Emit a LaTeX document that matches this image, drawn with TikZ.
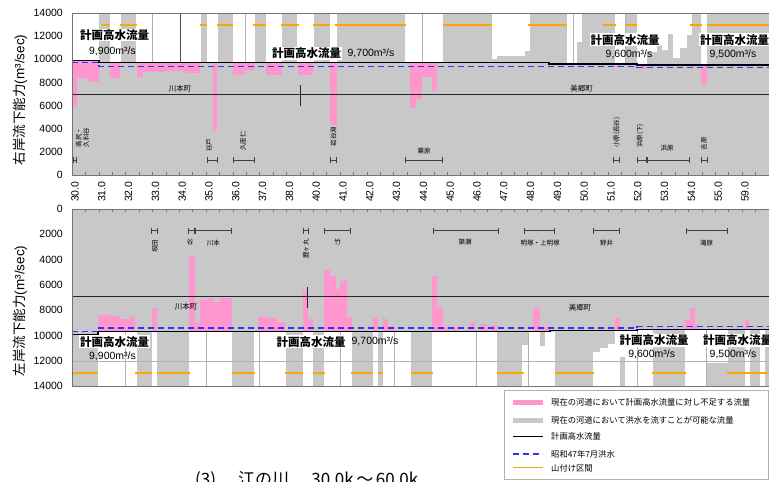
\documentclass[tikz,border=0pt]{standalone}
\usepackage{fontspec}
\setmainfont{Liberation Sans}
\newfontfamily\jp{Noto Sans CJK JP}
\usepackage{tikz}
\usetikzlibrary{arrows.meta}

\definecolor{capgray}{RGB}{200,200,200}
\definecolor{lackpink}{RGB}{255,150,205}
\definecolor{yamaorange}{RGB}{255,165,0}
\definecolor{floodblue}{RGB}{50,50,255}

\begin{document}
\begin{tikzpicture}[x=1pt,y=1pt,
	capbar/.style={fill=capgray},
	lackbar/.style={fill=lackpink},
	openbar/.style={fill=white},
	barline/.style={draw=black!30,line width=0.4pt},
	planline/.style={draw=black,line width=1.3pt},
	floodline/.style={draw=floodblue,line width=1.2pt,dash pattern=on 6pt off 4pt},
	yamaline/.style={draw=yamaorange,line width=2pt},
	townline/.style={draw=black!85,line width=0.7pt},
	spanline/.style={draw=black!75,line width=0.8pt,arrows={Bar[width=6pt]-Bar[width=6pt]}},
	frameline/.style={draw=black!55,line width=0.6pt},
	ticklab/.style={font=\fontsize{10.5}{12}\selectfont,inner sep=1pt},
	axtitle/.style={font=\fontsize{13.5}{15}\selectfont,rotate=90,inner sep=0pt},
	planlab/.style={font=\jp\bfseries\fontsize{11.5}{13}\selectfont,fill=white,inner sep=1pt},
	flowlab/.style={font=\fontsize{10.5}{12}\selectfont,inner sep=1pt},
	townlab/.style={font=\jp\fontsize{7.5}{9}\selectfont,inner sep=1pt},
	placelab/.style={font=\jp\fontsize{6.5}{7.5}\selectfont,inner sep=0.5pt},
	uplab/.style={placelab,rotate=90,align=center},
	legtext/.style={font=\jp\fontsize{8.3}{10}\selectfont,anchor=west,inner sep=1pt}
]
\useasboundingbox (0,0) rectangle (769,482);

% right bank
\begin{scope}[yshift=307pt,y=11.57pt]
	\fill[capbar] (72,0) rectangle (769,14);

	\fill[openbar] (72,9.9) rectangle (99,14);
	\fill[openbar] (110,9.7) rectangle (120.7,14);
	\fill[openbar] (136,9.7) rectangle (200.7,14);
	\fill[openbar] (207,9.7) rectangle (217.7,14);
	\fill[openbar] (233.3,9.7) rectangle (255,14);
	\fill[openbar] (266,9.7) rectangle (282,14);
	\fill[openbar] (297,9.7) rectangle (314,14);
	\fill[openbar] (330,9.7) rectangle (337,14);
	\fill[openbar] (405,9.7) rectangle (443,14);
	\fill[openbar] (491.7,10.0) rectangle (497,14);
	\fill[openbar] (497,10.3) rectangle (525,14);
	\fill[openbar] (525,10.7) rectangle (530,14);
	\fill[openbar] (566.7,9.7) rectangle (577,14);
	\fill[openbar] (577,11.5) rectangle (581.7,14);
	\fill[openbar] (615,9.6) rectangle (625,14);
	\fill[openbar] (636.7,9.5) rectangle (646.7,14);
	\fill[openbar] (646.7,10.6) rectangle (656.7,14);
	\fill[openbar] (656.7,11.2) rectangle (661.7,14);
	\fill[openbar] (661.7,10.8) rectangle (668.3,14);
	\fill[openbar] (668.3,12.2) rectangle (673.3,14);
	\fill[openbar] (673.3,10.1) rectangle (680,14);
	\fill[openbar] (680,10.95) rectangle (686.7,14);
	\fill[openbar] (686.7,12.1) rectangle (691.7,14);
	\fill[openbar] (700.7,9.5) rectangle (706.7,14);

	\fill[lackbar] (72,5.9) rectangle (77,9.9);
	\fill[lackbar] (77,8.4) rectangle (88,9.9);
	\fill[lackbar] (88,8.0) rectangle (99,9.9);
	\fill[lackbar] (110,8.35) rectangle (120,9.7);
	\fill[lackbar] (137,8.5) rectangle (143,9.7);
	\fill[lackbar] (143,8.9) rectangle (165,9.7);
	\fill[lackbar] (165,9.0) rectangle (185,9.7);
	\fill[lackbar] (185,8.85) rectangle (200,9.7);
	\fill[lackbar] (213.3,3.8) rectangle (217.3,9.7);
	\fill[lackbar] (233.3,8.6) rectangle (245,9.7);
	\fill[lackbar] (245,9.1) rectangle (255,9.7);
	\fill[lackbar] (266,8.65) rectangle (282,9.7);
	\fill[lackbar] (298,8.65) rectangle (313,9.7);
	\fill[lackbar] (330,4.3) rectangle (337,9.7);
	\fill[lackbar] (410,5.8) rectangle (416,9.7);
	\fill[lackbar] (416,6.6) rectangle (422,9.7);
	\fill[lackbar] (422,8.5) rectangle (432,9.7);
	\fill[lackbar] (432,7.3) rectangle (437,9.7);
	\fill[lackbar] (615,9.3) rectangle (620,9.6);
	\fill[lackbar] (642,9.2) rectangle (647,9.5);
	\fill[lackbar] (700.7,7.8) rectangle (706.7,9.5);

	\draw[barline] (151.7,9.7) -- (151.7,14);
	\draw[barline,black!70] (180,9.7) -- (180,14);
	\draw[barline] (245,9.7) -- (245,14);
	\draw[barline] (421.7,9.7) -- (421.7,14);
	\draw[barline] (572.7,9.7) -- (572.7,14);
	\draw[barline] (625,9.6) -- (625,14);

	\draw[yamaline] (101.7,13) -- (110,13);
	\draw[yamaline] (120,13) -- (136.7,13);
	\draw[yamaline] (200,13) -- (207,13);
	\draw[yamaline] (216.7,13) -- (233.3,13);
	\draw[yamaline] (253,13) -- (265.7,13);
	\draw[yamaline] (280.7,13) -- (299,13);
	\draw[yamaline] (312.7,13) -- (330,13);
	\draw[yamaline] (335,13) -- (406,13);
	\draw[yamaline] (442.7,13) -- (491.7,13);
	\draw[yamaline] (528,13) -- (566.7,13);
	\draw[yamaline] (603,13) -- (616,13);
	\draw[yamaline] (626,13) -- (636.7,13);
	\draw[yamaline] (690,13) -- (701.7,13);
	\draw[yamaline] (706.7,13) -- (769,13);

	\draw[townline] (72,7) -- (769,7);
	\draw[townline] (300,5.96) -- (300,7.78);
	\draw[planline] (72,9.9) -- (99,9.9) -- (99,9.7) -- (549,9.7) -- (549,9.6) -- (637,9.6) -- (637,9.5) -- (769,9.5);
	\draw[floodline] (72,9.75) -- (99,9.75) -- (99,9.4) -- (637,9.4) -- (637,9.3) -- (769,9.3);

	\draw[frameline] (72,14) -- (769,14);
	\draw[frameline] (72,0) -- (72,14);
	\draw[frameline] (72,0) -- (769,0);
	\foreach \i in {0,...,51}
		\draw[frameline] ({72+13.4*\i},0) -- ({72+13.4*\i},0.25);

	\foreach \v/\t in {0/0,2/2000,4/4000,6/6000,8/8000,10/10000,12/12000,14/14000}
		\node[ticklab,anchor=east] (ly\v) at (64,\v) {\t};
	\foreach \t [count=\i from 0] in {30.0,31.0,32.0,33.0,34.0,35.0,36.0,37.0,38.0,40.0,41.0,42.0,43.0,44.0,45.0,46.0,47.0,48.0,49.0,50.0,51.0,52.0,53.0,54.0,55.0,59.0}
		\node[ticklab,rotate=90,anchor=east] (lx\i) at ({75+26.8*\i},-0.45) {\t};
	\node[axtitle] (ltitle) at (20,6.5) {{\jp 右岸流下能力}(m³/sec)};

	\node[planlab] (lp1) at (114.5,12.1) {計画高水流量};
	\node[flowlab] (lq1) at (112.5,10.66) {9,900m³/s};
	\node[planlab] (lp2) at (306.5,10.52) {計画高水流量};
	\node[flowlab] (lq2) at (371,10.52) {9,700m³/s};
	\node[planlab] (lp3) at (625,11.67) {計画高水流量};
	\node[flowlab] (lq3) at (629,10.43) {9,600m³/s};
	\node[planlab,anchor=west] (lp4) at (699,11.67) {計画高水流量};
	\node[flowlab] (lq4) at (733,10.43) {9,500m³/s};

	\node[townlab] (lt1) at (180,7.43) {川本町};
	\node[townlab] (lt2) at (581.7,7.43) {美郷町};

	\draw[spanline] (72.5,1.3) -- (77,1.3);
	\draw[spanline] (206.7,1.3) -- (217.3,1.3);
	\draw[spanline] (232.7,1.3) -- (255,1.3);
	\draw[spanline] (330,1.3) -- (337,1.3);
	\draw[spanline] (405,1.3) -- (443,1.3);
	\draw[spanline] (613,1.3) -- (620,1.3);
	\draw[spanline] (636.7,1.3) -- (646.7,1.3);
	\draw[spanline] (646.7,1.3) -- (690,1.3);
	\draw[spanline] (700.7,1.3) -- (707.3,1.3);
	\node[uplab] (ls1) at (82.5,3.24) {高尻・\\久料谷};
	\node[uplab] (ls2) at (209,2.55) {谷戸};
	\node[uplab] (ls3) at (243,2.94) {久座仁};
	\node[uplab] (ls4) at (333.3,3.33) {岩谷淵};
	\node[placelab] (ls5) at (424,2.07) {粟原};
	\node[uplab] (ls6) at (616.7,3.67) {小原(長谷)};
	\node[uplab] (ls7) at (640,3.37) {浜原(下)};
	\node[placelab] (ls8) at (667,2.33) {浜原};
	\node[uplab] (ls9) at (704,2.72) {吉原};
\end{scope}

% left bank
\begin{scope}[yshift=273pt,y=-12.65pt]
	\fill[capbar] (72,0) rectangle (769,14);

	\fill[openbar] (98,9.7) rectangle (136.7,14);
	\fill[openbar] (151.7,9.7) rectangle (156.7,14);
	\fill[openbar] (189.3,9.7) rectangle (232.3,14);
	\fill[openbar] (254.3,9.7) rectangle (285.7,14);
	\fill[openbar] (303.3,9.7) rectangle (313.3,14);
	\fill[openbar] (324,9.7) rectangle (351.7,14);
	\fill[openbar] (372.7,9.7) rectangle (377.7,14);
	\fill[openbar] (383.3,9.7) rectangle (410.7,14);
	\fill[openbar] (431.7,9.7) rectangle (496.7,14);
	\fill[openbar] (521.7,10.75) rectangle (528,14);
	\fill[openbar] (528,9.7) rectangle (540,14);
	\fill[openbar] (540,10.8) rectangle (545,14);
	\fill[openbar] (545,9.7) rectangle (555,14);
	\fill[openbar] (593,11.3) rectangle (600,14);
	\fill[openbar] (600,11.0) rectangle (608,14);
	\fill[openbar] (608,10.7) rectangle (615,14);
	\fill[openbar] (615,9.6) rectangle (637,14);
	\fill[openbar] (637,9.5) rectangle (653,14);
	\fill[openbar] (685,9.5) rectangle (728,14);
	\fill[openbar] (745,9.5) rectangle (750,14);
	\fill[openbar] (760,9.5) rectangle (765,14);
	\fill[capbar] (620,11.7) rectangle (625,14);
	\fill[capbar] (706,12.2) rectangle (728,14);

	\fill[lackbar] (98,8.35) rectangle (111,9.7);
	\fill[lackbar] (111,8.45) rectangle (120,9.7);
	\fill[lackbar] (120,8.7) rectangle (131,9.7);
	\fill[lackbar] (131,8.45) rectangle (135,9.7);
	\fill[lackbar] (151.7,7.8) rectangle (156.7,9.7);
	\fill[lackbar] (189.3,3.8) rectangle (195,9.7);
	\fill[lackbar] (195,9.0) rectangle (200,9.7);
	\fill[lackbar] (200,7.2) rectangle (206.7,9.7);
	\fill[lackbar] (206.7,7.0) rectangle (213.3,9.7);
	\fill[lackbar] (213.3,7.35) rectangle (220,9.7);
	\fill[lackbar] (220,7.0) rectangle (232.3,9.7);
	\fill[lackbar] (258.3,8.5) rectangle (268.3,9.7);
	\fill[lackbar] (268.3,8.65) rectangle (276.7,9.7);
	\fill[lackbar] (276.7,8.9) rectangle (285,9.7);
	\fill[lackbar] (303.3,6.45) rectangle (308.3,9.7);
	\fill[lackbar] (308.3,8.7) rectangle (313.3,9.7);
	\fill[lackbar] (324,4.85) rectangle (330,9.7);
	\fill[lackbar] (330,5.3) rectangle (336,9.7);
	\fill[lackbar] (336,6.3) rectangle (340,9.7);
	\fill[lackbar] (340,5.7) rectangle (346.7,9.7);
	\fill[lackbar] (346.7,8.5) rectangle (351.7,9.7);
	\fill[lackbar] (372.7,8.6) rectangle (377.7,9.7);
	\fill[lackbar] (383.3,8.7) rectangle (388.3,9.7);
	\fill[lackbar] (388.3,9.25) rectangle (395,9.7);
	\fill[lackbar] (431.7,5.3) rectangle (436.7,9.7);
	\fill[lackbar] (436.7,7.75) rectangle (442.7,9.7);
	\fill[lackbar] (442.7,9.3) rectangle (450,9.7);
	\fill[lackbar] (453.3,9.3) rectangle (458.3,9.7);
	\fill[lackbar] (470,8.9) rectangle (475,9.7);
	\fill[lackbar] (480,9.1) rectangle (486.7,9.7);
	\fill[lackbar] (490,9.2) rectangle (496.7,9.7);
	\fill[lackbar] (533.3,7.8) rectangle (540,9.7);
	\fill[lackbar] (540,9.3) rectangle (550,9.7);
	\fill[lackbar] (615,8.6) rectangle (620,9.6);
	\fill[lackbar] (685,8.8) rectangle (690,9.5);
	\fill[lackbar] (690,7.8) rectangle (695,9.5);
	\fill[lackbar] (695,9.2) rectangle (698.3,9.5);
	\fill[lackbar] (745,8.8) rectangle (749.3,9.5);

	\draw[barline] (72,12) -- (769,12);
	\draw[barline] (125,9.7) -- (125,14);
	\draw[barline] (206,9.7) -- (206,14);
	\draw[barline] (259.3,9.7) -- (259.3,14);
	\draw[barline] (340,9.7) -- (340,14);
	\draw[barline] (394,9.7) -- (394,14);
	\draw[barline] (476,9.7) -- (476,14);
	\draw[barline] (528,9.7) -- (528,14);
	\draw[barline] (637,9.6) -- (637,14);
	\draw[barline] (706,9.5) -- (706,14);

	\draw[yamaline] (72,13) -- (98,13);
	\draw[yamaline] (135,13) -- (151.7,13);
	\draw[yamaline] (156.7,13) -- (190,13);
	\draw[yamaline] (232.3,13) -- (255,13);
	\draw[yamaline] (285,13) -- (303,13);
	\draw[yamaline] (312.7,13) -- (325,13);
	\draw[yamaline] (350.7,13) -- (373.3,13);
	\draw[yamaline] (377.7,13) -- (383.3,13);
	\draw[yamaline] (410.7,13) -- (432.7,13);
	\draw[yamaline] (496.7,13) -- (524,13);
	\draw[yamaline] (555,13) -- (594,13);
	\draw[yamaline] (652.3,13) -- (685.7,13);
	\draw[yamaline] (727.3,13) -- (769,13);

	\draw[townline] (72,6.93) -- (769,6.93);
	\draw[townline] (307.7,6.2) -- (307.7,7.8);
	\draw[planline] (72,9.9) -- (98,9.9) -- (98,9.7) -- (550,9.7) -- (550,9.6) -- (637,9.6) -- (637,9.5) -- (769,9.5);
	\draw[floodline] (72,9.7) -- (98,9.7) -- (98,9.4) -- (637,9.4) -- (637,9.3) -- (769,9.3);

	\draw[frameline] (72,0) -- (769,0);
	\draw[frameline] (72,0) -- (72,14);
	\draw[frameline] (72,14) -- (769,14);
	\foreach \i in {0,...,51}
		\draw[frameline] ({72+13.4*\i},0) -- ({72+13.4*\i},0.25);

	\foreach \v/\t in {0/0,2/2000,4/4000,6/6000,8/8000,10/10000,12/12000,14/14000}
		\node[ticklab,anchor=east] (ry\v) at (64,\v) {\t};
	\node[axtitle] (rtitle) at (20,8.06) {{\jp 左岸流下能力}(m³/sec)};

	\node[planlab] (rp1) at (114.5,10.49) {計画高水流量};
	\node[flowlab] (rq1) at (112.5,11.68) {9,900m³/s};
	\node[planlab] (rp2) at (311,10.49) {計画高水流量};
	\node[flowlab] (rq2) at (375,10.49) {9,700m³/s};
	\node[planlab] (rp3) at (654,10.36) {計画高水流量};
	\node[flowlab] (rq3) at (651.7,11.46) {9,600m³/s};
	\node[planlab,anchor=west] (rp4) at (702,10.36) {計画高水流量};
	\node[flowlab] (rq4) at (733,11.46) {9,500m³/s};

	\node[townlab] (rt1) at (186,7.75) {川本町};
	\node[townlab] (rt2) at (580,7.77) {美郷町};

	\draw[spanline] (150.7,1.7) -- (157.3,1.7);
	\draw[spanline] (188,1.7) -- (195,1.7);
	\draw[spanline] (195,1.7) -- (232,1.7);
	\draw[spanline] (302.7,1.7) -- (308.3,1.7);
	\draw[spanline] (324,1.7) -- (350.7,1.7);
	\draw[spanline] (432.7,1.7) -- (498.3,1.7);
	\draw[spanline] (524,1.7) -- (555,1.7);
	\draw[spanline] (592.7,1.7) -- (620,1.7);
	\draw[spanline] (686,1.7) -- (727.7,1.7);
	\node[uplab] (rs1) at (155,2.96) {坂田};
	\node[placelab] (rs2) at (190,2.58) {谷};
	\node[placelab] (rs3) at (213.3,2.66) {川本};
	\node[uplab] (rs4) at (306,3.16) {鹿ヶ丸};
	\node[placelab] (rs5) at (337.7,2.58) {竹};
	\node[placelab] (rs6) at (465,2.58) {簗瀬};
	\node[placelab] (rs7) at (540,2.66) {明塚・上明塚};
	\node[placelab] (rs8) at (606.7,2.7) {野井};
	\node[placelab] (rs9) at (706.7,2.66) {滝原};
\end{scope}

% legend
\draw[black!30,fill=white] (504,3) rectangle (768.5,92);
\fill[lackpink] (513,77) rectangle (543,82);
\node[legtext] (lg1) at (550,79.5) {現在の河道において計画高水流量に対し不足する流量};
\fill[capgray] (513,59) rectangle (543,64);
\node[legtext] (lg2) at (550,61.5) {現在の河道において洪水を流すことが可能な流量};
\draw[planline,line width=1pt] (513,45.3) -- (543,45.3);
\node[legtext] (lg3) at (550,45.3) {計画高水流量};
\draw[floodline] (513,28) -- (543,28);
\node[legtext] (lg4) at (550,28) {昭和47年7月洪水};
\draw[yamaline,line width=1pt] (513,14) -- (543,14);
\node[legtext] (lg5) at (550,14) {山付け区間};

\node[font=\jp\fontsize{17}{20}\selectfont,anchor=base west,inner sep=0pt] (capt) at (195,-4) {(3)\hspace{1.3em}江の川\hspace{1.3em}30.0k\hspace{0.15em}～\hspace{0.15em}60.0k};
\end{tikzpicture}
\end{document}
